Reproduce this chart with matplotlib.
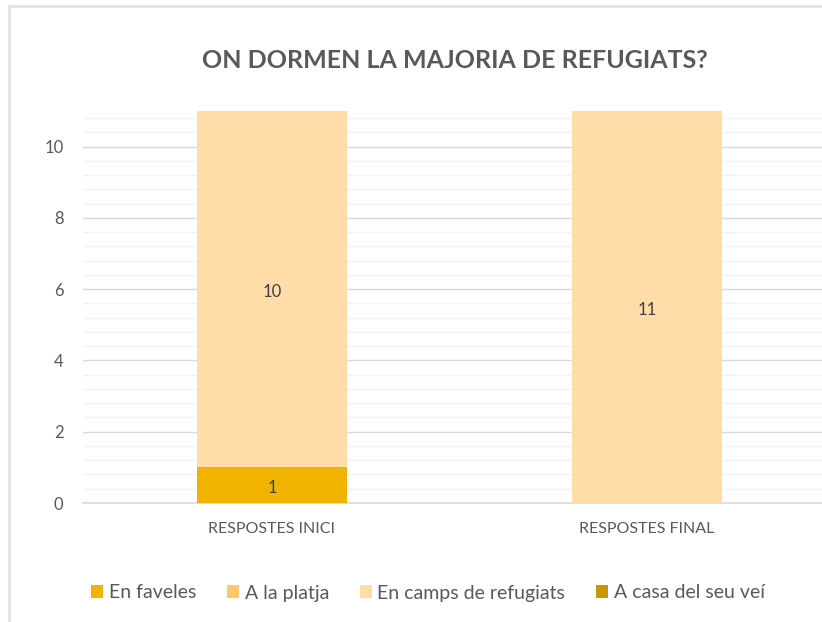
import matplotlib
matplotlib.use("Agg")
import matplotlib.pyplot as plt
from matplotlib.lines import Line2D
from matplotlib.patches import Patch
import numpy as np

plt.rcParams['font.family'] = ['Lato', 'DejaVu Sans']

categories = ["RESPOSTES INICI", "RESPOSTES FINAL"]
series_names = ["En faveles", "A la platja", "En camps de refugiats", "A casa del seu veí"]
en_faveles = [1, 0]
a_la_platja = [0, 0]
en_camps = [10, 11]
a_casa = [0, 0]
series_values = [en_faveles, a_la_platja, en_camps, a_casa]
colors = ["#F0B400", "#FFC66B", "#FFDCA8", "#C99700"]
yticks = [0, 2, 4, 6, 8, 10]

fig = plt.figure(figsize=(8.22, 6.22), dpi=100)
ax = fig.add_axes([83/822, (622-503)/622, 1 - 83/822, (503-111)/622])

x = np.arange(len(categories))
bottom = np.zeros(len(categories))
for name, vals, c in zip(series_names, series_values, colors):
    vals = np.array(vals, dtype=float)
    ax.bar(x, vals, 0.4, bottom=bottom, color=c, zorder=3, label=name)
    for xi, v, b in zip(x, vals, bottom):
        if v > 0:
            ax.text(xi, b + v / 2 - 0.08, f"{int(v)}", ha="center", va="center",
                    fontsize=12, color="#404040", zorder=4)
    bottom += vals

ax.set_xlim(-0.504, 1.467)
ax.set_ylim(0, 11)
ax.set_yticks(yticks)
ax.set_yticks(np.arange(0, 11, 0.4), minor=True)
ax.tick_params(axis="y", which="both", length=0, pad=14, labelsize=12, labelcolor="#595959")
ax.tick_params(axis="x", length=0, pad=14, labelsize=11.5, labelcolor="#595959")
ax.set_xticks(x)
ax.set_xticklabels(categories)
ax.grid(axis="y", which="major", color="#D9D9D9", linewidth=1.0, zorder=0)
ax.grid(axis="y", which="minor", color="#F2F2F2", linewidth=1.0, zorder=0)
for s in ["left", "right", "top"]:
    ax.spines[s].set_visible(False)
ax.spines["bottom"].set_color("#D9D9D9")
ax.spines["bottom"].set_linewidth(1.2)

fig.text(455/822, 1 - 60/622, "ON DORMEN LA MAJORIA DE REFUGIATS?", ha="center", va="center",
         fontsize=18, fontweight="bold", color="#595959")

handles = [Patch(facecolor=c, edgecolor="none") for c in colors]
fig.legend(handles, series_names, loc="center", bbox_to_anchor=(428/822, 1 - 593/622), ncol=4,
           frameon=False, fontsize=14, labelcolor="#595959", handlelength=0.6, handleheight=0.6,
           handletextpad=0.3, columnspacing=1.6)

# outer frame lines
fig.add_artist(Line2D([9/822, 1], [1 - 6/622, 1 - 6/622], transform=fig.transFigure, color="#E3E3E3", linewidth=2))
fig.add_artist(Line2D([9/822, 9/822], [0, 1 - 6/622], transform=fig.transFigure, color="#E3E3E3", linewidth=2))

fig.savefig("out.png", dpi=100)
